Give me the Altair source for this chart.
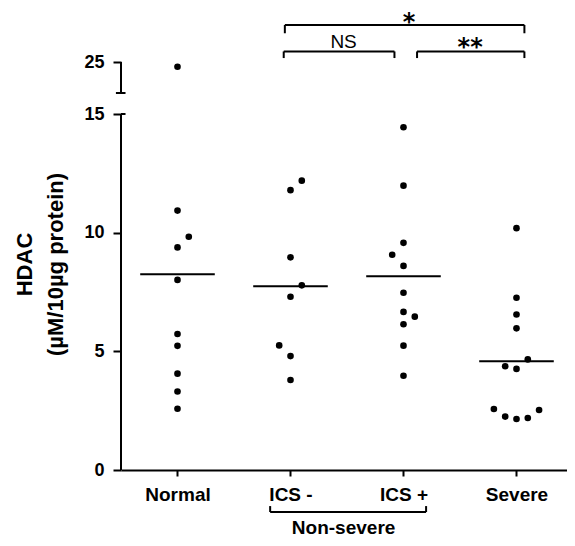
import altair as alt
import pandas as pd

groups = ["Normal", "ICS -", "ICS +", "Severe"]

normal_vals = [24.8, 10.93, 9.83, 9.38, 8.01, 5.73, 5.23, 4.06, 3.31, 2.58]
normal_off = [0, 0, 0.1, 0, 0, 0, 0, 0, 0, 0]
ics_minus_vals = [12.19, 11.79, 8.96, 7.78, 7.30, 5.25, 4.80, 3.79]
ics_minus_off = [0.1, 0, 0, 0.1, 0, -0.1, 0, 0]
ics_plus_vals = [14.44, 11.98, 9.57, 9.07, 8.60, 7.47, 6.66, 6.46, 6.14, 5.24, 3.97]
ics_plus_off = [0, 0, 0, -0.1, 0, 0, 0, 0.1, 0, 0, 0]
severe_vals = [10.19, 7.26, 6.55, 5.97, 4.66, 4.37, 4.26, 2.57, 2.53, 2.25, 2.15, 2.19]
severe_off = [0, 0, 0, 0, 0.1, -0.1, 0, -0.2, 0.2, -0.1, 0, 0.1]

means = [8.25, 7.74, 8.16, 4.58]

# significance brackets: start group pos, end group pos, height, tip, label
sig_x1 = [1.95, 1.94, 3.12]
sig_x2 = [4.07, 2.92, 4.07]
sig_y = [26.57, 25.45, 25.45]
sig_tip = [26.22, 25.17, 25.17]
sig_text = ["*", "NS", "**"]
sig_text_x = [3.05, 2.47, 3.59]
sig_text_y = [26.34, 25.59, 25.28]
sig_text_size = [24, 19, 24]
sig_text_weight = ["bold", "normal", "bold"]
sig_text_font = ["DejaVu Sans", "Liberation Sans", "DejaVu Sans"]

# Non-severe sub-group bracket below axis
ns_x1, ns_x2, ns_y, ns_tip = 1.82, 3.2, -1.77, -1.52
ns_label, ns_label_x, ns_label_y = "Non-severe", 2.47, -2.70

FONT = "Liberation Sans"

rows = []
for gi, (vals, offs) in enumerate(
    [(normal_vals, normal_off), (ics_minus_vals, ics_minus_off),
     (ics_plus_vals, ics_plus_off), (severe_vals, severe_off)]):
    for v, o in zip(vals, offs):
        rows.append({"g": gi + 1, "off": o, "v": v})
pts = pd.DataFrame(rows)

xs = alt.Scale(domain=[0.5, 4.447], nice=False, zero=False)
ys = alt.Scale(domain=[0, 15, 23.69, 27.29], range=[462, 106, 85, 0],
               nice=False, zero=False)

label_expr = "[''," + ",".join(f"'{g}'" for g in groups) + "][datum.value]"

points = alt.Chart(pts).transform_calculate(px="datum.g + datum.off").mark_circle(
    size=44, color="black", opacity=1
).encode(
    x=alt.X("px:Q", scale=xs, axis=alt.Axis(
        values=[1, 2, 3, 4], labelExpr=label_expr, title=None, grid=False,
        domainColor="black", domainWidth=2, tickColor="black", tickWidth=2,
        tickSize=6, labelFont=FONT, labelFontSize=19, labelFontWeight="bold",
        labelColor="black", labelPadding=9)),
    y=alt.Y("v:Q", scale=ys, axis=alt.Axis(
        values=[0, 5, 10, 15, 25], title=["HDAC", "(\u00b5M/10\u00b5g protein)"],
        grid=False, domain=False, tickColor="black", tickWidth=2, tickSize=8,
        labelFont=FONT, labelFontSize=18, labelFontWeight="bold",
        labelColor="black", labelPadding=9,
        titleFont=FONT, titleFontSize=22, titleFontWeight="bold",
        titleColor="black", titleLineHeight=31, titleAngle=270,
        titleX=-90, titleY=256, titleBaseline="alphabetic", titleAlign="center")),
)

mean_df = pd.DataFrame({"g": [1, 2, 3, 4], "m": means})
mean_lines = alt.Chart(mean_df).transform_calculate(
    a="datum.g - 0.33", b="datum.g + 0.33"
).mark_rule(color="black", strokeWidth=2).encode(
    x=alt.X("a:Q", scale=xs), x2="b:Q", y=alt.Y("m:Q", scale=ys))

# broken y-axis line segments
axis_df = pd.DataFrame({"x": [0.5, 0.5], "y1": [0, 23.69], "y2": [15, 25]})
axis_lines = alt.Chart(axis_df).mark_rule(color="black", strokeWidth=2).encode(
    x=alt.X("x:Q", scale=xs), y=alt.Y("y1:Q", scale=ys), y2="y2:Q")
caps_df = pd.DataFrame({"x1": [0.5, 0.455], "x2": [0.54, 0.54], "y": [15, 23.69]})
caps = alt.Chart(caps_df).mark_rule(color="black", strokeWidth=2).encode(
    x=alt.X("x1:Q", scale=xs), x2="x2:Q", y=alt.Y("y:Q", scale=ys))

# brackets
hrows, vrows = [], []
for a, b, y, t in zip(sig_x1, sig_x2, sig_y, sig_tip):
    hrows.append({"x1": a, "x2": b, "y": y})
    vrows.append({"x": a, "y1": t, "y2": y})
    vrows.append({"x": b, "y1": t, "y2": y})
hrows.append({"x1": ns_x1, "x2": ns_x2, "y": ns_y})
vrows.append({"x": ns_x1, "y1": ns_tip, "y2": ns_y})
vrows.append({"x": ns_x2, "y1": ns_tip, "y2": ns_y})
hb = alt.Chart(pd.DataFrame(hrows)).mark_rule(color="black", strokeWidth=2).encode(
    x=alt.X("x1:Q", scale=xs), x2="x2:Q", y=alt.Y("y:Q", scale=ys))
vb = alt.Chart(pd.DataFrame(vrows)).mark_rule(color="black", strokeWidth=2).encode(
    x=alt.X("x:Q", scale=xs), y=alt.Y("y1:Q", scale=ys), y2="y2:Q")

texts = []
for i in range(len(sig_text)):
    df = pd.DataFrame({"x": [sig_text_x[i]], "y": [sig_text_y[i]], "t": [sig_text[i]]})
    texts.append(alt.Chart(df).mark_text(
        font=sig_text_font[i], fontSize=sig_text_size[i], fontWeight=sig_text_weight[i],
        color="black", baseline="alphabetic", align="center"
    ).encode(x=alt.X("x:Q", scale=xs), y=alt.Y("y:Q", scale=ys), text="t:N"))

ns_text = alt.Chart(pd.DataFrame({"x": [ns_label_x], "y": [ns_label_y], "t": [ns_label]})).mark_text(
    font=FONT, fontSize=19, fontWeight="bold", color="black", baseline="alphabetic", align="center"
).encode(x=alt.X("x:Q", scale=xs), y=alt.Y("y:Q", scale=ys), text="t:N")

chart = alt.layer(points, mean_lines, axis_lines, caps, hb, vb, ns_text, *texts).properties(
    width=446, height=462,
    autosize=alt.AutoSizeParams(type="none"),
    padding={"left": 113, "top": 0, "right": 0, "bottom": 68},
).configure_view(stroke=None)

chart.save("out.html", embed_options={"renderer": "svg", "actions": False})
